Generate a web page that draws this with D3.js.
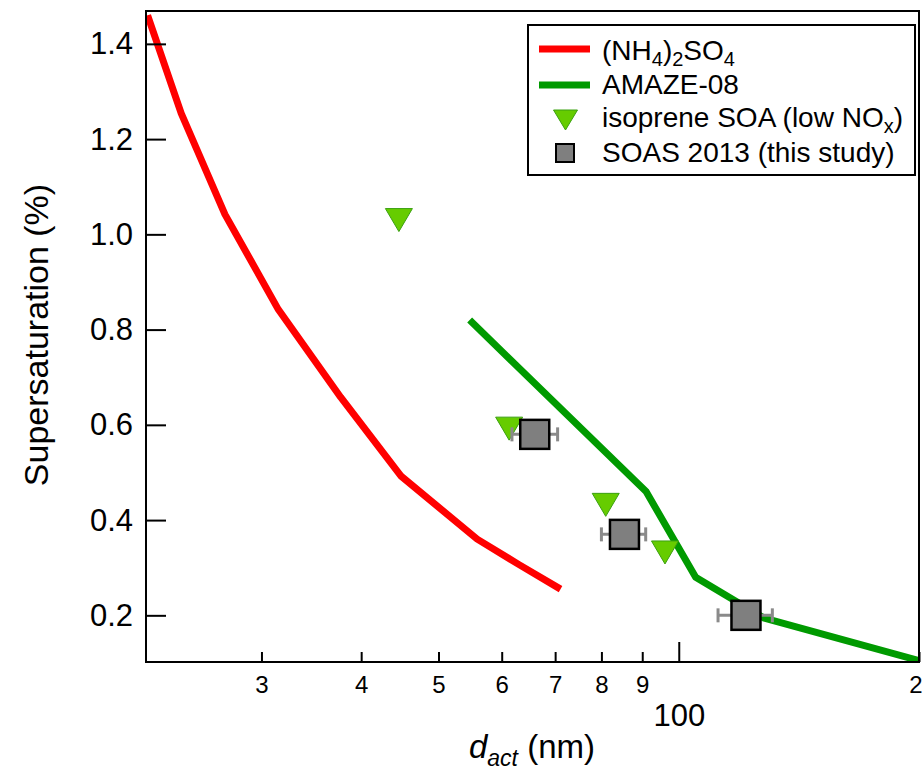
<!DOCTYPE html>
<html>
<head>
<meta charset="utf-8">
<script src="https://cdn.jsdelivr.net/npm/d3@7"></script>
<style>
  body { margin: 0; background: #fff; }
  svg { display: block; font-family: "Liberation Sans", Arial, sans-serif; }
</style>
</head>
<body>
<div id="chart"></div>
<script>
// (NH4)2SO4 activation curve
let ammSulfD = [21.6, 23.8, 27.0, 31.5, 37.7, 44.9, 55.9, 63.0, 71.1]
let ammSulfSS = [1.46, 1.254, 1.042, 0.842, 0.658, 0.492, 0.36, 0.307, 0.255]

// AMAZE-08
let amazeD = [54.7, 91, 105, 128, 200]
let amazeSS = [0.82, 0.46, 0.28, 0.194, 0.105]

// isoprene SOA (low NOx)
let isopreneD = [44.6, 61.3, 81.0, 96.1]
let isopreneSS = [1.03, 0.592, 0.432, 0.332]

// SOAS 2013 (this study), with horizontal error range
let soasD = [66.0, 85.5, 121.4]
let soasSS = [0.58, 0.37, 0.20]
let soasDLow = [61.8, 80.0, 112.0]
let soasDHigh = [70.5, 90.9, 131.0]

// axis ticks
let xMinorTicks = [30, 40, 50, 60, 70, 80, 90, 200]
let xMinorLabels = ["3", "4", "5", "6", "7", "8", "9", "2"]
let xMajorTicks = [100]
let yTicks = [0.2, 0.4, 0.6, 0.8, 1.0, 1.2, 1.4]

let svgWidth = 922,
    svgHeight = 771

let margin = { top: 11, right: 3, bottom: 109, left: 146 }
let width = svgWidth - margin.left - margin.right
let height = svgHeight - margin.top - margin.bottom

let svg = d3.select("#chart")
  .append("svg")
  .attr("width", svgWidth)
  .attr("height", svgHeight)

let chartGroup = svg.append("g")
  .attr("transform", `translate(${margin.left}, ${margin.top})`)

let x = d3.scaleLog().domain([21.5, 200]).range([0, width])
let y = d3.scaleLinear().domain([0.102, 1.469]).range([height, 0])

let zip = (a, b) => a.map((v, i) => [v, b[i]])

chartGroup.append("clipPath").attr("id", "plotclip")
  .append("rect").attr("width", width).attr("height", height)

let line = d3.line().x(d => x(d[0])).y(d => y(d[1]))

let plot = chartGroup.append("g").attr("clip-path", "url(#plotclip)")

plot.append("path")
  .datum(zip(ammSulfD, ammSulfSS))
  .attr("d", line)
  .attr("fill", "none")
  .attr("stroke", "#ff0000")
  .attr("stroke-width", 7)
  .attr("stroke-linejoin", "round")

plot.append("path")
  .datum(zip(amazeD, amazeSS))
  .attr("d", line)
  .attr("fill", "none")
  .attr("stroke", "#009a00")
  .attr("stroke-width", 7)
  .attr("stroke-linejoin", "round")

// down triangle centred on its bounding box
function downTri(w, h) {
  return `M${-w / 2},${-h / 2}L${w / 2},${-h / 2}L0,${h / 2}Z`
}

chartGroup.selectAll(".tri")
  .data(zip(isopreneD, isopreneSS))
  .enter()
  .append("path")
  .attr("class", "tri")
  .attr("transform", d => `translate(${x(d[0])}, ${y(d[1])})`)
  .attr("d", downTri(27, 23))
  .attr("fill", "#66cc00")
  .attr("stroke", "#3aa010")
  .attr("stroke-width", 1)

let soas = soasD.map((d, i) => ({ d: d, ss: soasSS[i], lo: soasDLow[i], hi: soasDHigh[i] }))

let err = chartGroup.selectAll(".err")
  .data(soas)
  .enter()
  .append("g")
  .attr("class", "err")
  .attr("stroke", "#8a8a8a")
  .attr("stroke-width", 3)
err.append("line")
  .attr("x1", d => x(d.lo)).attr("x2", d => x(d.hi))
  .attr("y1", d => y(d.ss)).attr("y2", d => y(d.ss))
err.append("line")
  .attr("x1", d => x(d.lo)).attr("x2", d => x(d.lo))
  .attr("y1", d => y(d.ss) - 7).attr("y2", d => y(d.ss) + 7)
err.append("line")
  .attr("x1", d => x(d.hi)).attr("x2", d => x(d.hi))
  .attr("y1", d => y(d.ss) - 7).attr("y2", d => y(d.ss) + 7)

chartGroup.selectAll(".sq")
  .data(soas)
  .enter()
  .append("rect")
  .attr("class", "sq")
  .attr("x", d => x(d.d) - 14.5)
  .attr("y", d => y(d.ss) - 14.5)
  .attr("width", 29)
  .attr("height", 29)
  .attr("fill", "#7f7f7f")
  .attr("stroke", "#000")
  .attr("stroke-width", 2.5)

// frame
chartGroup.append("rect")
  .attr("width", width)
  .attr("height", height)
  .attr("fill", "none")
  .attr("stroke", "#000")
  .attr("stroke-width", 2)

// x axis: minor ticks (short, labelled with digits) and major ticks (long)
let xMinorAxis = d3.axisBottom(x)
  .tickValues(xMinorTicks)
  .tickSize(-10)
  .tickPadding(14)
  .tickFormat((d, i) => xMinorLabels[i])
let gxMinor = chartGroup.append("g")
  .attr("transform", `translate(0, ${height})`)
  .call(xMinorAxis)
gxMinor.select(".domain").remove()
gxMinor.selectAll("line").attr("stroke-width", 2)
gxMinor.selectAll("text")
  .attr("font-size", 24)
  .attr("fill", "#000")
  .attr("font-family", "Liberation Sans, Arial, sans-serif")
// last label sits on the right edge; keep it inside the page
gxMinor.selectAll("text").filter(d => d === 200)
  .attr("text-anchor", "end")
  .attr("dx", 3)

let xMajorAxis = d3.axisBottom(x)
  .tickValues(xMajorTicks)
  .tickSize(-20)
  .tickPadding(42)
  .tickFormat(d3.format("d"))
let gxMajor = chartGroup.append("g")
  .attr("transform", `translate(0, ${height})`)
  .call(xMajorAxis)
gxMajor.select(".domain").remove()
gxMajor.selectAll("line").attr("stroke-width", 2)
gxMajor.selectAll("text")
  .attr("font-size", 31)
  .attr("fill", "#000")
  .attr("font-family", "Liberation Sans, Arial, sans-serif")

// y axis
let yAxis = d3.axisLeft(y)
  .tickValues(yTicks)
  .tickSize(-20)
  .tickPadding(13)
  .tickFormat(d3.format(".1f"))
let gy = chartGroup.append("g").call(yAxis)
gy.select(".domain").remove()
gy.selectAll("line").attr("stroke-width", 2)
gy.selectAll("text")
  .attr("font-size", 31)
  .attr("fill", "#000")
  .attr("font-family", "Liberation Sans, Arial, sans-serif")

// axis titles
let xTitle = svg.append("text")
  .attr("x", 532)
  .attr("y", 758)
  .attr("text-anchor", "middle")
  .attr("font-size", 33)
xTitle.append("tspan").attr("font-style", "italic").text("d")
xTitle.append("tspan").attr("font-style", "italic").attr("font-size", 23).attr("dy", 8).text("act")
xTitle.append("tspan").attr("dy", -8).text(" (nm)")

svg.append("text")
  .attr("transform", "translate(48, 335) rotate(-90)")
  .attr("text-anchor", "middle")
  .attr("font-size", 34)
  .text("Supersaturation (%)")

// legend
let legend = svg.append("g").attr("transform", "translate(528, 25)")
legend.append("rect")
  .attr("width", 387)
  .attr("height", 150)
  .attr("fill", "#fff")
  .attr("stroke", "#000")
  .attr("stroke-width", 2)

let legendFont = 28
legend.append("line")
  .attr("x1", 11).attr("x2", 62).attr("y1", 24).attr("y2", 24)
  .attr("stroke", "#ff0000").attr("stroke-width", 7)
let t1 = legend.append("text").attr("x", 74).attr("y", 35).attr("font-size", legendFont)
t1.append("tspan").text("(NH")
t1.append("tspan").attr("font-size", 20).attr("dy", 6).text("4")
t1.append("tspan").attr("dy", -6).text(")")
t1.append("tspan").attr("font-size", 20).attr("dy", 6).text("2")
t1.append("tspan").attr("dy", -6).text("SO")
t1.append("tspan").attr("font-size", 20).attr("dy", 6).text("4")

legend.append("line")
  .attr("x1", 11).attr("x2", 62).attr("y1", 60).attr("y2", 60)
  .attr("stroke", "#009a00").attr("stroke-width", 7)
legend.append("text").attr("x", 74).attr("y", 69).attr("font-size", legendFont).text("AMAZE-08")

legend.append("path")
  .attr("transform", "translate(37.5, 95)")
  .attr("d", downTri(24, 20))
  .attr("fill", "#66cc00")
  .attr("stroke", "#3aa010")
  .attr("stroke-width", 1)
let t3 = legend.append("text").attr("x", 74).attr("y", 102).attr("font-size", legendFont)
t3.append("tspan").text("isoprene SOA (low NO")
t3.append("tspan").attr("font-size", 20).attr("dy", 6).text("x")
t3.append("tspan").attr("dy", -6).text(")")

legend.append("rect")
  .attr("x", 28).attr("y", 119).attr("width", 18).attr("height", 18)
  .attr("fill", "#7f7f7f").attr("stroke", "#000").attr("stroke-width", 2)
legend.append("text").attr("x", 74).attr("y", 137).attr("font-size", legendFont).text("SOAS 2013 (this study)")
</script>
</body>
</html>
